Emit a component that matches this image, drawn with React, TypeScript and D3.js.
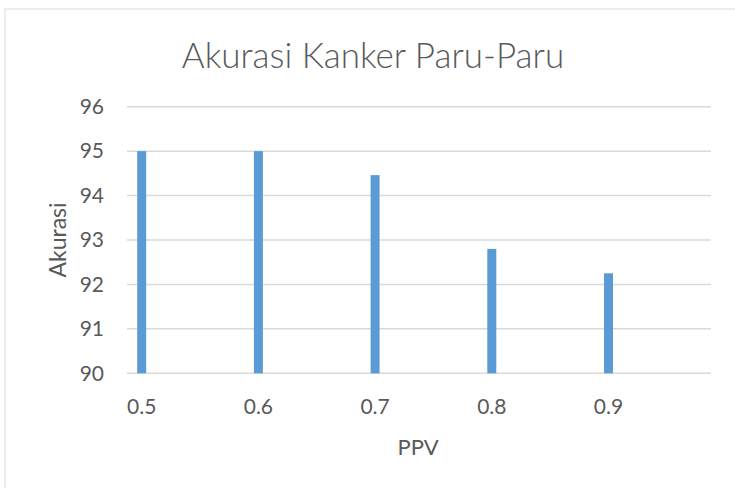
import React from 'react';
import * as d3 from 'd3';

const ppv = [0.5, 0.6, 0.7, 0.8, 0.9];
const akurasi = [95, 95, 94.46, 92.8, 92.25];
const yTicks = [90, 91, 92, 93, 94, 95, 96];

const W = 735;
const H = 488;
const FONT = 'Lato, "Open Sans", sans-serif';

const App = () => {
  const x = d3.scaleLinear().domain([0.5, 0.9]).range([141.7, 608.5]);
  const y = d3.scaleLinear().domain([90, 96]).range([373.3, 106.7]);
  const left = 127;
  const right = 711;
  const barW = 9;

  return (
    <svg width={W} height={H} style={{ position: 'absolute', left: 0, top: 0, background: '#fff' }}>
      {/* chart frame */}
      <rect x={5} y={9} width={W + 10} height={H + 10} fill="#fff" stroke="#d9d9d9" strokeWidth={1} />

      <text x={373} y={68} textAnchor="middle" fontFamily={FONT} fontWeight={300} fontSize={35} fill="#595959">
        Akurasi Kanker Paru-Paru
      </text>

      {/* gridlines */}
      {yTicks.map(t => (
        <line key={t} x1={left} x2={right} y1={y(t)} y2={y(t)} stroke="#d9d9d9" strokeWidth={1.5} />
      ))}

      {/* y tick labels */}
      {yTicks.map(t => (
        <text key={'l' + t} x={104} y={y(t)} dy="0.35em" textAnchor="end" fontFamily={FONT} fontSize={21} fill="#595959">
          {t}
        </text>
      ))}

      {/* bars */}
      {ppv.map((p, i) => (
        <rect key={p} x={x(p) - barW / 2} y={y(akurasi[i])} width={barW} height={y(90) - y(akurasi[i])} fill="#5b9bd5" />
      ))}

      {/* x tick labels */}
      {ppv.map(p => (
        <text key={'x' + p} x={x(p)} y={414} textAnchor="middle" fontFamily={FONT} fontSize={21} fill="#595959">
          {p.toFixed(1)}
        </text>
      ))}

      <text x={418} y={455} textAnchor="middle" fontFamily={FONT} fontSize={22} fill="#595959">PPV</text>
      <text transform={`translate(66,240) rotate(-90)`} textAnchor="middle" fontFamily={FONT} fontSize={23} fill="#595959">
        Akurasi
      </text>
    </svg>
  );
};

export default App;
